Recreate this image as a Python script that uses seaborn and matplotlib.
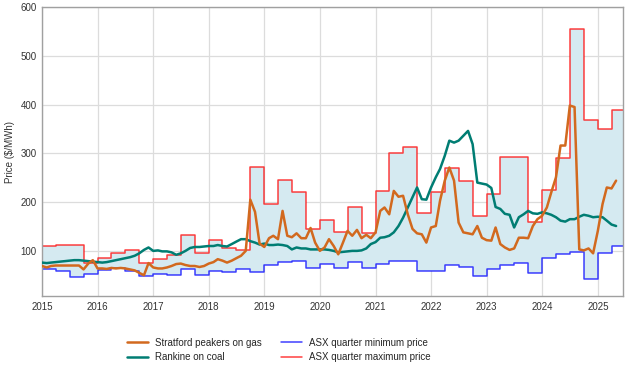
import pandas as pd
import matplotlib
matplotlib.use('Agg')
import matplotlib.pyplot as plt
import matplotlib.dates as mdates
import seaborn as sns

# monthly series, Jan 2015 .. May 2025
months = pd.date_range('2015-01-01', periods=125, freq='MS')

stratford = [69, 66, 69, 70, 70, 70, 70, 70, 70, 62, 74, 81,
             64, 64, 63, 65, 64, 65, 64, 62, 60, 55, 50, 75,
             66, 64, 64, 66, 69, 73, 74, 71, 69, 69, 67, 69,
             74, 77, 83, 80, 76, 80, 85, 90, 100, 205, 180, 115,
             108, 126, 131, 124, 182, 131, 128, 136, 126, 126, 147, 117,
             100, 107, 124, 110, 93, 117, 141, 131, 143, 126, 133, 126,
             138, 182, 189, 175, 223, 211, 213, 175, 145, 136, 134, 117,
             148, 151, 203, 244, 271, 244, 158, 138, 136, 134, 151, 127,
             122, 121, 148, 114, 107, 102, 105, 127, 127, 126, 151, 165,
             172, 189, 220, 251, 316, 316, 398, 395, 103, 101, 105, 95,
             141, 196, 230, 228, 244]

rankine = [76, 75, 76, 77, 78, 79, 80, 81, 81, 80, 79, 78,
           77, 76, 77, 79, 81, 83, 85, 87, 90, 95, 102, 107,
           100, 101, 99, 99, 97, 92, 95, 100, 106, 108, 108, 109,
           110, 110, 112, 110, 109, 114, 119, 124, 124, 120, 117, 113,
           115, 112, 112, 113, 112, 110, 103, 107, 105, 105, 103, 103,
           103, 103, 102, 100, 97, 98, 99, 100, 100, 101, 105, 114,
           118, 127, 128, 131, 138, 151, 168, 189, 210, 230, 206, 205,
           230, 251, 268, 295, 326, 322, 326, 336, 346, 319, 240, 238,
           236, 229, 190, 186, 176, 174, 148, 169, 175, 182, 177, 176,
           179, 177, 174, 169, 162, 160, 165, 165, 170, 174, 172, 169,
           170, 169, 162, 154, 151]

# quarterly ASX range, 2015Q1 .. 2025Q2
quarters = pd.date_range('2015-01-01', periods=42, freq='QS')

asx_min = [62, 59, 47, 52, 61, 64, 59, 48, 53, 51, 62, 51,
           59, 56, 62, 57, 71, 78, 80, 64, 73, 65, 78, 65,
           73, 79, 80, 59, 59, 71, 66, 49, 62, 71, 75, 55,
           86, 93, 97, 43, 95, 109]

asx_max = [109, 113, 113, 75, 85, 95, 101, 75, 83, 92, 132, 96,
           122, 105, 101, 271, 196, 245, 221, 145, 164, 138, 189, 136,
           222, 301, 312, 177, 220, 269, 244, 172, 216, 292, 292, 160,
           225, 290, 554, 369, 350, 389]

sns.set_style('whitegrid')
plt.rcParams['font.family'] = ['Liberation Sans', 'DejaVu Sans']

fig, ax = plt.subplots(figsize=(6.27, 3.70), dpi=100)
fig.subplots_adjust(left=0.067, right=0.994, top=0.981, bottom=0.2)

# close off the last quarter so the steps run to the edge
edges = quarters.append(pd.DatetimeIndex([quarters[-1] + pd.offsets.QuarterBegin(startingMonth=1)]))
lo = asx_min + [asx_min[-1]]
hi = asx_max + [asx_max[-1]]

ax.fill_between(edges, lo, hi, step='post', color='#d5eaf1', lw=0, zorder=1)
sns.lineplot(x=edges, y=lo, drawstyle='steps-post', color='#0000ff', alpha=0.75,
             lw=1.1, ax=ax, label='ASX quarter minimum price', zorder=2)
sns.lineplot(x=edges, y=hi, drawstyle='steps-post', color='#ff0000', alpha=0.75,
             lw=1.1, ax=ax, label='ASX quarter maximum price', zorder=2)

df = pd.DataFrame({'month': months, 'stratford': stratford, 'rankine': rankine})
sns.lineplot(data=df, x='month', y='rankine', color='#007d73', lw=1.8, ax=ax,
             label='Rankine on coal', zorder=3)
sns.lineplot(data=df, x='month', y='stratford', color='#d2691e', lw=1.8, ax=ax,
             label='Stratford peakers on gas', zorder=4)

ax.set_xlim(pd.Timestamp('2015-01-01'), pd.Timestamp('2025-06-17'))
ax.set_ylim(7.5, 600)
ax.set_yticks([100, 200, 300, 400, 500, 600])
ax.xaxis.set_major_locator(mdates.YearLocator())
ax.xaxis.set_major_formatter(mdates.DateFormatter('%Y'))

ax.set_xlabel('')
ax.set_ylabel('Price ($/MWh)', fontsize=7, color='#333333')
ax.tick_params(labelsize=7, length=0, pad=4, colors='#333333')
ax.grid(color='#dcdcdc', lw=0.9)
for s in ax.spines.values():
    s.set_color('#a0a0a0')
    s.set_linewidth(1)

h, l = ax.get_legend_handles_labels()
order = [l.index(n) for n in ['Stratford peakers on gas', 'Rankine on coal',
                              'ASX quarter minimum price', 'ASX quarter maximum price']]
ax.get_legend().remove()
fig.legend([h[i] for i in order], [l[i] for i in order], ncol=2, frameon=False,
           loc='center left', bbox_to_anchor=(0.188, 0.054), fontsize=7,
           handlelength=2.2, handletextpad=0.7, columnspacing=2.0, labelspacing=0.5)

fig.savefig('out.png', dpi=100)
